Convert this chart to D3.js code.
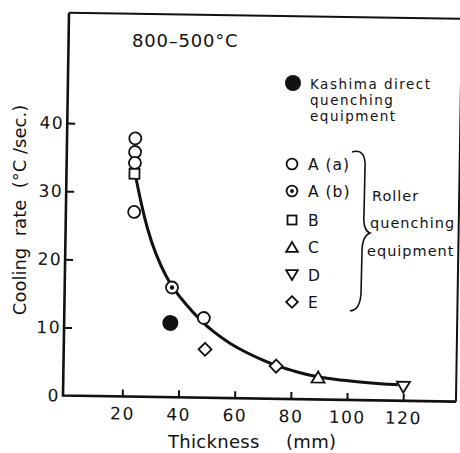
<!DOCTYPE html>
<html>
<head>
<meta charset="utf-8">
<script src="https://cdn.jsdelivr.net/npm/d3@7"></script>
<style>
  html, body { margin: 0; padding: 0; background: #fff; }
  svg { display: block; }
  text { font-family: "DejaVu Sans", sans-serif; fill: #111; }
</style>
</head>
<body>
<svg id="chart" width="460" height="453"></svg>
<script>
// Cooling rate (800-500 °C) versus plate thickness
const xTicks = [20, 40, 60, 80, 100, 120];
const yTicks = [0, 10, 20, 30, 40];

// Roller quenching equipment, by type: [thickness mm, cooling rate °C/s]
const seriesAa = [[23.2, 37.9], [23.2, 35.9], [23.2, 34.3], [23.2, 27.1], [48.6, 11.7]];
const seriesAb = [[37.1, 16.1]];
const seriesB  = [[23.1, 32.7]];
const seriesC  = [[89.6, 3.3]];
const seriesD  = [[120.0, 2.0]];
const seriesE  = [[49.2, 7.1], [74.6, 4.8]];
// Kashima direct quenching equipment
const kashima  = [[36.7, 10.9]];

// Fitted trend curve
const trend = [
  [23.5, 32.4], [25.5, 28.6], [28, 24.6], [31, 21.0], [35, 17.6], [38, 15.7],
  [42, 13.7], [47, 11.5], [52, 9.7], [58, 8.0], [64, 6.7], [70, 5.6],
  [75, 4.8], [82, 4.0], [88, 3.4], [95, 3.0], [105, 2.65], [112, 2.45], [118, 2.35]
];

const legendItems = ["A (a)", "A (b)", "B", "C", "D", "E"];

const svg = d3.select("#chart");
svg.append("rect").attr("width", 460).attr("height", 453).attr("fill", "#fff");

const x = d3.scaleLinear().domain([-1.1, 138.8]).range([63, 456]);
const y = d3.scaleLinear().domain([0, 56.2]).range([395.5, 12.6]);

// plot body, set very slightly askew
const g = svg.append("g").attr("transform", "rotate(0.9, 63, 395)");

const ink = "#111";

// frame
const x0 = x.range()[0], x1 = x.range()[1], yb = y.range()[0], yt = y.range()[1];
g.append("path")
  .attr("d", `M${x0},${yt} L${x1},${yt} L${x1},${yb}`)
  .attr("fill", "none").attr("stroke", ink).attr("stroke-width", 2);
g.append("path")
  .attr("d", `M${x0},${yt} L${x0},${yb} L${x1},${yb}`)
  .attr("fill", "none").attr("stroke", ink).attr("stroke-width", 2.6);

// axes (ticks point inward)
const xAxis = g.append("g").attr("transform", `translate(0,${yb})`)
  .call(d3.axisBottom(x).tickValues(xTicks).tickSizeInner(-7).tickSizeOuter(0).tickPadding(11));
const yAxis = g.append("g").attr("transform", `translate(${x0},0)`)
  .call(d3.axisLeft(y).tickValues(yTicks).tickSizeInner(-8).tickSizeOuter(0).tickPadding(3));
[xAxis, yAxis].forEach(a => {
  a.select(".domain").remove();
  a.selectAll(".tick line").attr("stroke", ink).attr("stroke-width", 2);
  a.selectAll(".tick text")
    .style("font-family", "'DejaVu Sans', sans-serif")
    .style("font-size", "17px").style("letter-spacing", "1.5px").attr("fill", ink);
});
yAxis.selectAll(".tick").filter(d => d === 0).select("line").remove();

// trend curve
g.append("path")
  .datum(trend)
  .attr("d", d3.line().x(d => x(d[0])).y(d => y(d[1])).curve(d3.curveBasis))
  .attr("fill", "none").attr("stroke", ink).attr("stroke-width", 3);

// marker shapes
function drawMark(sel, type, cx, cy, s) {
  const sw = 1.8;
  if (type === "Aa" || type === "Ab") {
    sel.append("circle").attr("cx", cx).attr("cy", cy).attr("r", 6 * s)
      .attr("fill", "#fff").attr("stroke", ink).attr("stroke-width", sw);
    if (type === "Ab") sel.append("circle").attr("cx", cx).attr("cy", cy).attr("r", 2.2 * s).attr("fill", ink);
  } else if (type === "B") {
    const h = 5 * s;
    sel.append("rect").attr("x", cx - h).attr("y", cy - h).attr("width", 2 * h).attr("height", 2 * h)
      .attr("fill", "#fff").attr("stroke", ink).attr("stroke-width", sw);
  } else if (type === "C") {
    const w = 6.5 * s, h = 5.5 * s;
    sel.append("path").attr("d", `M${cx},${cy - h} L${cx + w},${cy + h} L${cx - w},${cy + h} Z`)
      .attr("fill", "#fff").attr("stroke", ink).attr("stroke-width", sw);
  } else if (type === "D") {
    const w = 6.5 * s, h = 5.5 * s;
    sel.append("path").attr("d", `M${cx},${cy + h} L${cx + w},${cy - h} L${cx - w},${cy - h} Z`)
      .attr("fill", "#fff").attr("stroke", ink).attr("stroke-width", sw);
  } else if (type === "E") {
    const r = 6.5 * s;
    sel.append("path").attr("d", `M${cx},${cy - r} L${cx + r},${cy} L${cx},${cy + r} L${cx - r},${cy} Z`)
      .attr("fill", "#fff").attr("stroke", ink).attr("stroke-width", sw);
  } else if (type === "K") {
    sel.append("circle").attr("cx", cx).attr("cy", cy).attr("r", 8 * s).attr("fill", ink);
  }
}

const marks = g.append("g");
[["Aa", seriesAa], ["Ab", seriesAb], ["B", seriesB], ["C", seriesC], ["D", seriesD], ["E", seriesE], ["K", kashima]]
  .forEach(([type, pts]) => pts.forEach(p => drawMark(marks, type, x(p[0]), y(p[1]), 1)));

// titles
svg.append("text").attr("x", 132).attr("y", 47)
  .style("font-size", "18px").style("letter-spacing", "0.8px").text("800–500°C");

svg.append("text").attr("x", 168).attr("y", 448)
  .style("font-size", "18px").style("letter-spacing", "0.3px").text("Thickness");
svg.append("text").attr("x", 286).attr("y", 448)
  .style("font-size", "18px").style("letter-spacing", "0.3px").text("(mm)");

svg.append("text")
  .attr("transform", "translate(26,210) rotate(-90)")
  .attr("text-anchor", "middle")
  .style("font-size", "18px").style("white-space", "pre")
  .text("Cooling  rate  (°C /sec.)");

// legend
const leg = svg.append("g");
const legFont = "14.5px", legSpacing = "1px";
drawMark(leg, "K", 293, 83, 1);
["Kashima direct", "quenching", "equipment"].forEach((t, i) => {
  leg.append("text").attr("x", 310).attr("y", 89 + i * 15.8)
    .style("font-size", "13.5px").style("letter-spacing", "1.5px").text(t);
});

const legY = [164, 191, 220, 247, 275, 302];
const legTypes = ["Aa", "Ab", "B", "C", "D", "E"];
legendItems.forEach((t, i) => {
  drawMark(leg, legTypes[i], 292, legY[i], 0.9);
  leg.append("text").attr("x", 308).attr("y", legY[i] + 5.5)
    .style("font-size", "15.5px").style("white-space", "pre").style("letter-spacing", "1px").text(t);
});

// curly brace grouping the roller quenching types
leg.append("path")
  .attr("d", "M352,152 C361,149 366,155 365,168 L364,214 C363,226 365,231 370,233 C365,235 362,240 362,252 L361,294 C360,305 357,310 350,311")
  .attr("fill", "none").attr("stroke", ink).attr("stroke-width", 1.6);

[["Roller", 372, 201], ["quenching", 370, 228], ["equipment", 367, 256]].forEach(([t, tx, ty]) => {
  leg.append("text").attr("x", tx).attr("y", ty)
    .style("font-size", legFont).style("letter-spacing", legSpacing).text(t);
});
</script>
</body>
</html>
